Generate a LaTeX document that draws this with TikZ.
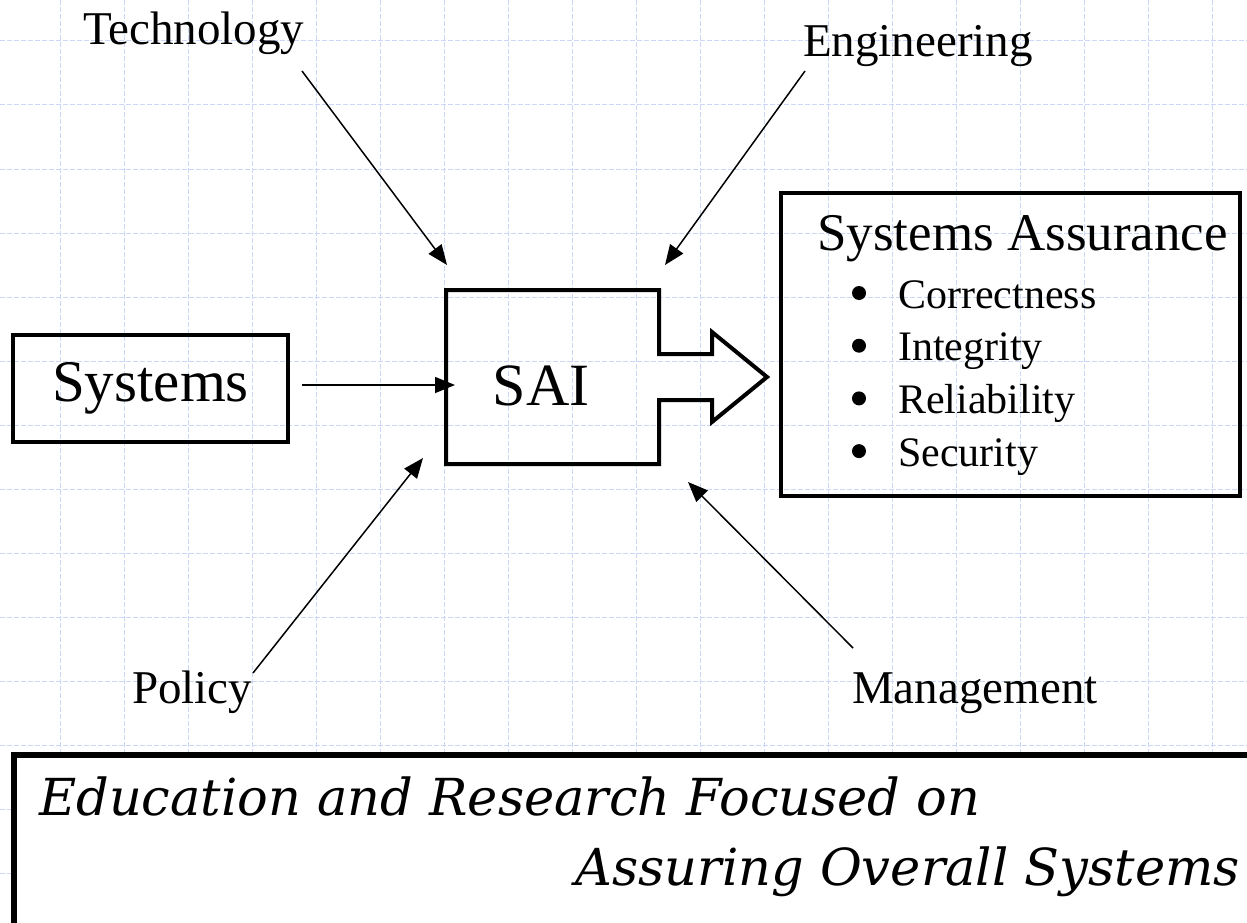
\documentclass[tikz,border=0pt]{standalone}
\usepackage{fontspec}
\setmainfont{Liberation Serif}
\newfontfamily\slogan{DejaVu Serif}
\usetikzlibrary{arrows.meta}

\definecolor{gridblue}{RGB}{205,215,250}

\tikzset{
  feed/.style={line width=1.5pt, -{Triangle[length=20pt,width=16pt]}},
  word/.style={inner sep=0pt, anchor=base west, font=\fontsize{47}{50}\selectfont},
  bullet/.style={circle, fill=black, inner sep=0pt, minimum size=14pt},
  point/.style={inner sep=0pt, anchor=base west, font=\fontsize{42}{44}\selectfont},
  motto/.style={inner sep=0pt, font=\slogan\itshape\fontsize{51}{54}\selectfont},
}

\begin{document}
\begin{tikzpicture}[x=1pt,y=-1pt]
\useasboundingbox (0,0) rectangle (1247,923);
% background grid
\foreach \x in {60,124,...,1247}
\draw[gridblue, line width=1pt, dash pattern=on 5pt off 2pt] (\x,0) -- (\x,923);
\foreach \y in {41,105,...,923}
\draw[gridblue, line width=1pt, dash pattern=on 5pt off 2pt] (0,\y) -- (1247,\y);

% the SAI block arrow
\draw[line width=4pt, miter limit=10] (446,290) -- (659,290) -- (659,354) -- (712,354)
  -- (712,332) -- (767,377) -- (712,422) -- (712,400) -- (659,400) -- (659,464)
  -- (446,464) -- cycle;
\node[inner sep=0pt, anchor=base, font=\fontsize{60}{62}\selectfont] (sai) at (541,405) {SAI};

% inputs
\node[draw, line width=3.5pt, minimum width=275pt, minimum height=107pt,
  font=\fontsize{59}{61}\selectfont] (sys) at (150.5,388.5) {Systems};
\node[word] (tech) at (83,45) {Technology};
\node[word] (eng) at (803,57) {Engineering};
\node[word] (pol) at (132,703) {Policy};
\node[word] (mgmt) at (852,703) {Management};

\coordinate (sys-out) at (302,385);
\coordinate (sai-w) at (455,385);
\coordinate (tech-out) at (302,71);
\coordinate (sai-nw) at (447,265);
\coordinate (eng-out) at (805,71);
\coordinate (sai-ne) at (665,265);
\coordinate (pol-out) at (253,673);
\coordinate (sai-sw) at (423,458);
\coordinate (mgmt-out) at (853,648);
\coordinate (sai-se) at (688,482);

\draw[feed] (sys-out) -- (sai-w);
\draw[feed] (tech-out) -- (sai-nw);
\draw[feed] (eng-out) -- (sai-ne);
\draw[feed] (pol-out) -- (sai-sw);
\draw[feed] (mgmt-out) -- (sai-se);

% outcome
\node[draw, line width=4pt, minimum width=459pt, minimum height=303pt, inner sep=0pt]
  (sabox) at (1010.5,344.5) {};
\node[inner sep=0pt, anchor=base west, font=\fontsize{53}{55}\selectfont] (satitle)
  at (817,250) {Systems Assurance};
\foreach \txt [count=\i from 0] in {Correctness,Integrity,Reliability,Security} {
  \node[bullet] (dot\i) at (859,{293+52.7*\i}) {};
  \node[point] (pt\i) at (898,{308+52.7*\i}) {\txt};
}

% motto
\draw[line width=6pt, fill=white] (14,755) rectangle (1280,960);
\node[motto, anchor=base west] (motto1) at (39,815) {Education and Research Focused on};
\node[motto, anchor=base east] (motto2) at (1240,885) {Assuring Overall Systems};
\end{tikzpicture}
\end{document}
